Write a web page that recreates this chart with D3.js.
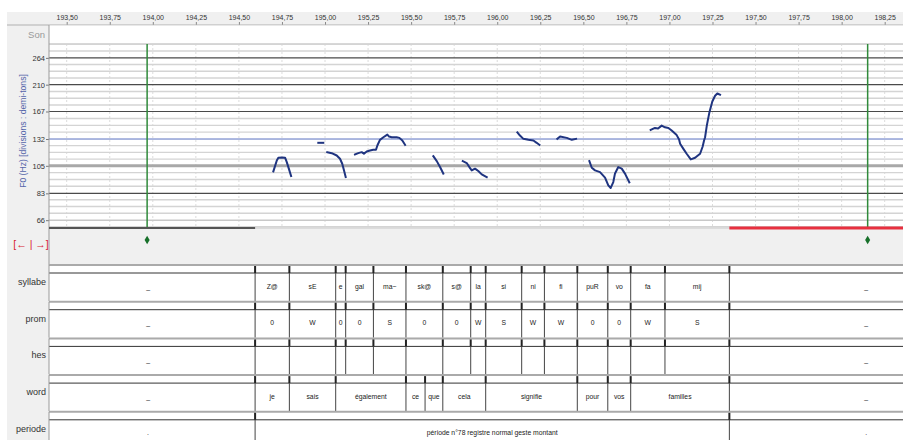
<!DOCTYPE html>
<html><head><meta charset="utf-8">
<script src="https://cdnjs.cloudflare.com/ajax/libs/d3/7.8.5/d3.min.js"></script>
<style>
html,body{margin:0;padding:0;background:#fff;}
svg{display:block;font-family:"Liberation Sans",Arial,sans-serif;}
</style></head><body>
<svg id="chart" width="903" height="440"></svg>
<script>
// ---- time axis (seconds) ----
const timeTicks = [193.5,193.75,194.0,194.25,194.5,194.75,195.0,195.25,195.5,195.75,196.0,196.25,196.5,196.75,197.0,197.25,197.5,197.75,198.0,198.25];
const timeTickLabels = ["193,50","193,75","194,00","194,25","194,50","194,75","195,00","195,25","195,50","195,75","196,00","196,25","196,50","196,75","197,00","197,25","197,50","197,75","198,00","198,25"];

// ---- F0 axis (Hz, semitone divisions) ----
const f0TickHz = [66, 83, 105, 132, 167, 210, 264];
const f0Base = 66.1;           // lowest labelled division
const f0Semitones = 24;        // span between 66 and 264

// ---- cursors ----
const cursorTimes = [193.967, 198.151];

// ---- F0 contour, one array per voiced stretch: [time s, F0 Hz] ----
const f0Seg1 = [[194.700,100.1],[194.720,109.9],[194.729,112.5],[194.750,112.8],[194.768,112.5],[194.778,108.4],[194.793,101.0],[194.803,96.2]];
const f0Seg2 = [[194.961,127.8],[194.990,127.8]];
const f0Seg3 = [[195.013,118.0],[195.039,117.0],[195.068,114.7],[195.087,111.5],[195.100,106.9],[195.110,101.0],[195.120,95.4]];
const f0Seg4 = [[195.174,115.7],[195.193,117.0],[195.213,118.0],[195.226,116.4],[195.242,118.7],[195.261,119.7],[195.280,120.4],[195.296,120.4],[195.304,124.9],[195.319,131.1],[195.339,134.0],[195.362,137.1],[195.372,134.8],[195.387,134.0],[195.416,134.0],[195.432,133.3],[195.449,130.3],[195.465,125.6]];
const f0Seg5 = [[195.629,114.0],[195.649,109.3],[195.668,103.9],[195.687,98.2]];
const f0Seg6 = [[195.800,109.3],[195.823,107.5],[195.838,103.9],[195.852,101.0],[195.871,102.5],[195.890,100.4],[195.910,97.6],[195.939,95.4]];
const f0Seg7 = [[196.117,139.8],[196.132,136.0],[196.152,132.2],[196.181,131.1],[196.210,130.3],[196.229,127.8],[196.245,125.6]];
const f0Seg8 = [[196.349,132.2],[196.365,134.8],[196.404,133.3],[196.433,131.1],[196.458,132.2]];
const f0Seg9 = [[196.535,109.3],[196.549,103.3],[196.568,101.0],[196.597,99.5],[196.626,94.9],[196.645,88.9],[196.659,86.9],[196.674,91.4],[196.684,98.4],[196.703,103.9],[196.723,102.5],[196.742,98.2],[196.767,91.2]];
const f0Seg10 = [[196.891,142.7],[196.916,145.1],[196.934,144.3],[196.955,148.0],[196.974,145.9],[196.994,145.1],[197.013,141.9],[197.042,136.5],[197.056,131.4],[197.062,126.7],[197.081,121.4],[197.100,116.4],[197.124,110.9],[197.149,112.5],[197.178,116.4],[197.193,123.8],[197.201,130.3],[197.207,134.0],[197.217,148.0],[197.232,165.7],[197.249,181.9],[197.265,191.0],[197.278,194.7],[197.294,192.6]];
const f0Segments = [f0Seg1,f0Seg2,f0Seg3,f0Seg4,f0Seg5,f0Seg6,f0Seg7,f0Seg8,f0Seg9,f0Seg10];

// ---- annotation tiers ----
const syllBounds = [193.351,194.594,194.793,195.062,195.120,195.281,195.470,195.684,195.846,195.933,196.142,196.274,196.465,196.642,196.775,196.974,197.348,198.937];
const syllLabels = ["_","Z@","sE","e","gal","ma~","sk@","s@","la","si","ni","fi","puR","vo","fa","mij","_"];
const promLabels = ["_","0","W","0","0","S","0","0","W","S","W","W","0","0","W","S","_"];
const hesLabels  = ["_","","","","","","","","","","","","","","","","_"];
const wordBounds = [193.351,194.594,194.793,195.062,195.470,195.581,195.684,195.933,196.465,196.642,196.775,197.348,198.937];
const wordLabels = ["_","je","sais","également","ce","que","cela","signifie","pour","vos","familles","_"];
const periodBounds = [193.351,194.594,197.348,198.937];
const periodLabels = [".","période n°78 registre normal geste montant","."];
const tierNames = ["syllabe","prom","hes","word","periode"];

const tiers = [
  {bounds: syllBounds, labels: syllLabels},
  {bounds: syllBounds, labels: promLabels},
  {bounds: syllBounds, labels: hesLabels},
  {bounds: wordBounds, labels: wordLabels},
  {bounds: periodBounds, labels: periodLabels}
];

// ---- layout ----
const W = 903, H = 440;
const plotL = 49, plotR = W;
const headerTop = 12, headerBot = 25;
const pitchTop = 44, pitchBot = 228;
const bandBot = 265;
const tierTop0 = 265, tierStep = 36.7, stripH = 8, tierH = 36;

const svg = d3.select("#chart");

const x = d3.scaleLinear().domain([193.5, 198.25]).range([66.7, 884.7]);
const y = d3.scaleLog().domain([f0Base, f0Base * Math.pow(2, f0Semitones/12)]).range([220, 57.7]);

// panel background
svg.append("rect").attr("x",7).attr("y",headerTop).attr("width",W-7).attr("height",H-headerTop).attr("fill","#f0f0f0");

// clip for plot-width content
svg.append("defs").append("clipPath").attr("id","plotClip")
  .append("rect").attr("x",plotL).attr("y",0).attr("width",plotR-plotL).attr("height",H);

// ---- top time axis ----
const axisG = svg.append("g").attr("transform",`translate(0,${headerBot})`);
const xAxis = d3.axisTop(x).tickValues(timeTicks)
  .tickFormat((d,i)=>timeTickLabels[i]).tickSize(3).tickPadding(2);
axisG.call(xAxis);
axisG.select(".domain").remove();
axisG.selectAll(".tick line").attr("stroke","#888");
axisG.selectAll(".tick text").attr("font-size","7px").attr("fill","#333")
  .attr("font-family","Liberation Sans, Arial, sans-serif");
svg.append("line").attr("x1",7).attr("x2",W).attr("y1",headerBot).attr("y2",headerBot).attr("stroke","#b0b0b0");

// ---- Son row + pitch area ----
svg.append("rect").attr("x",plotL).attr("y",headerBot+0.5).attr("width",plotR-plotL).attr("height",pitchBot-headerBot-0.5).attr("fill","#fff");
svg.append("line").attr("x1",plotL).attr("x2",plotR).attr("y1",pitchTop).attr("y2",pitchTop).attr("stroke","#b8b8b8");
svg.append("text").attr("x",45).attr("y",38).attr("text-anchor","end").attr("font-size","9.5px").attr("fill","#999").text("Son");

const pitchG = svg.append("g").attr("clip-path","url(#plotClip)");

// vertical dashed time grid
pitchG.selectAll("line.vgrid").data(timeTicks).join("line")
  .attr("class","vgrid")
  .attr("x1",d=>x(d)).attr("x2",d=>x(d)).attr("y1",pitchTop).attr("y2",pitchBot)
  .attr("stroke","#dcdcdc").attr("stroke-dasharray","2,2");

// semitone grid
const minorSt = d3.range(-1, f0Semitones + 3).filter(k => ((k % 4) + 4) % 4 !== 0);
pitchG.selectAll("line.minor").data(minorSt).join("line")
  .attr("class","minor")
  .attr("x1",plotL).attr("x2",plotR)
  .attr("y1",k=>y(f0Base*Math.pow(2,k/12))).attr("y2",k=>y(f0Base*Math.pow(2,k/12)))
  .attr("stroke","#d4d4d4").attr("stroke-width",1.4);

function majorStyle(hz){
  if (hz === 132) return {c:"#5a70c0", w:1};
  if (hz === 105) return {c:"#a8a8a8", w:3};
  if (hz === 66) return {c:"#c8c8c8", w:1.4};
  return {c:"#4a4a4a", w:1.2};
}
pitchG.selectAll("line.major").data(f0TickHz).join("line")
  .attr("class","major")
  .attr("x1",plotL).attr("x2",plotR)
  .attr("y1",d=>y(d)).attr("y2",d=>y(d))
  .attr("stroke",d=>majorStyle(d).c).attr("stroke-width",d=>majorStyle(d).w);

// F0 axis labels
const yAxisG = svg.append("g").attr("transform",`translate(${plotL},0)`);
yAxisG.call(d3.axisLeft(y).tickValues(f0TickHz).tickFormat(d3.format("d")).tickSize(3).tickPadding(1));
yAxisG.select(".domain").remove();
yAxisG.selectAll(".tick line").attr("stroke","#777");
yAxisG.selectAll(".tick text").attr("font-size","7.5px").attr("fill","#333")
  .attr("font-family","Liberation Sans, Arial, sans-serif");

svg.append("text")
  .attr("transform",`translate(26,131) rotate(-90)`)
  .attr("text-anchor","middle").attr("font-size","8.6px").attr("fill","#5566aa")
  .text("F0 (Hz) [divisions : demi-tons]");

// cursors
pitchG.selectAll("line.cursor").data(cursorTimes).join("line")
  .attr("class","cursor")
  .attr("x1",d=>x(d)).attr("x2",d=>x(d)).attr("y1",pitchTop).attr("y2",pitchBot)
  .attr("stroke","#2f8a3a").attr("stroke-width",1.5);

// F0 contour
const line = d3.line().x(d=>x(d[0])).y(d=>y(d[1])).curve(d3.curveLinear);
pitchG.selectAll("path.f0").data(f0Segments).join("path")
  .attr("class","f0").attr("d",line)
  .attr("fill","none").attr("stroke","#1f3480").attr("stroke-width",2)
  .attr("stroke-linejoin","round").attr("stroke-linecap","square");

// left border of plot
svg.append("line").attr("x1",plotL).attr("x2",plotL).attr("y1",headerBot).attr("y2",bandBot)
  .attr("stroke","#9a9a9a");

// pitch area bottom: outside-period markers
const segStart = periodBounds[1], segEnd = periodBounds[periodBounds.length-2];
svg.append("line").attr("x1",plotL).attr("x2",plotR).attr("y1",pitchBot).attr("y2",pitchBot).attr("stroke","#c8c8c8");
svg.append("line").attr("x1",plotL).attr("x2",x(segStart)).attr("y1",pitchBot).attr("y2",pitchBot)
  .attr("stroke","#555").attr("stroke-width",2);
svg.append("line").attr("x1",x(segEnd)).attr("x2",plotR).attr("y1",pitchBot).attr("y2",pitchBot)
  .attr("stroke","#e8303f").attr("stroke-width",3);

// cursor markers in band
svg.selectAll("path.diamond").data(cursorTimes).join("path")
  .attr("class","diamond")
  .attr("d",d3.symbol().type(d3.symbolDiamond).size(22))
  .attr("transform",d=>`translate(${x(d)},240)`)
  .attr("fill","#17702a");

svg.append("text").attr("x",31).attr("y",248).attr("text-anchor","middle")
  .attr("font-size","10.5px").attr("fill","#d81830").text("[\u2190 | \u2192]");

// ---- tiers ----
tiers.forEach((tier, i) => {
  const top = tierTop0 + i*tierStep;
  const g = svg.append("g");
  const cg = g.append("g").attr("clip-path","url(#plotClip)");
  // strip + body
  cg.append("rect").attr("x",plotL).attr("y",top).attr("width",plotR-plotL).attr("height",tierH).attr("fill","#fff");
  cg.append("line").attr("x1",plotL).attr("x2",plotR).attr("y1",top).attr("y2",top).attr("stroke","#aaa").attr("stroke-width",2);
  cg.append("line").attr("x1",plotL).attr("x2",plotR).attr("y1",top+stripH).attr("y2",top+stripH).attr("stroke","#333").attr("stroke-width",1);

  const inner = tier.bounds.slice(1, -1);
  cg.selectAll("line.mark").data(inner).join("line").attr("class","mark")
    .attr("x1",d=>x(d)).attr("x2",d=>x(d)).attr("y1",top+1).attr("y2",top+stripH)
    .attr("stroke","#222").attr("stroke-width",2);
  cg.selectAll("line.bound").data(inner).join("line").attr("class","bound")
    .attr("x1",d=>x(d)).attr("x2",d=>x(d)).attr("y1",top+stripH).attr("y2",top+tierH)
    .attr("stroke","#444").attr("stroke-width",1);

  cg.selectAll("text.lab").data(tier.labels).join("text").attr("class","lab")
    .attr("x",(d,j)=>(x(tier.bounds[j])+x(tier.bounds[j+1]))/2)
    .attr("y",top+23.5).attr("text-anchor","middle")
    .attr("font-size","6.8px").attr("fill","#222").text(d=>d);

  g.append("line").attr("x1",plotL).attr("x2",plotL).attr("y1",top).attr("y2",top+tierH).attr("stroke","#9a9a9a");
  g.append("text").attr("x",46).attr("y",top+20).attr("text-anchor","end")
    .attr("font-size","9px").attr("fill","#333").text(tierNames[i]);
});
</script>
</body></html>
